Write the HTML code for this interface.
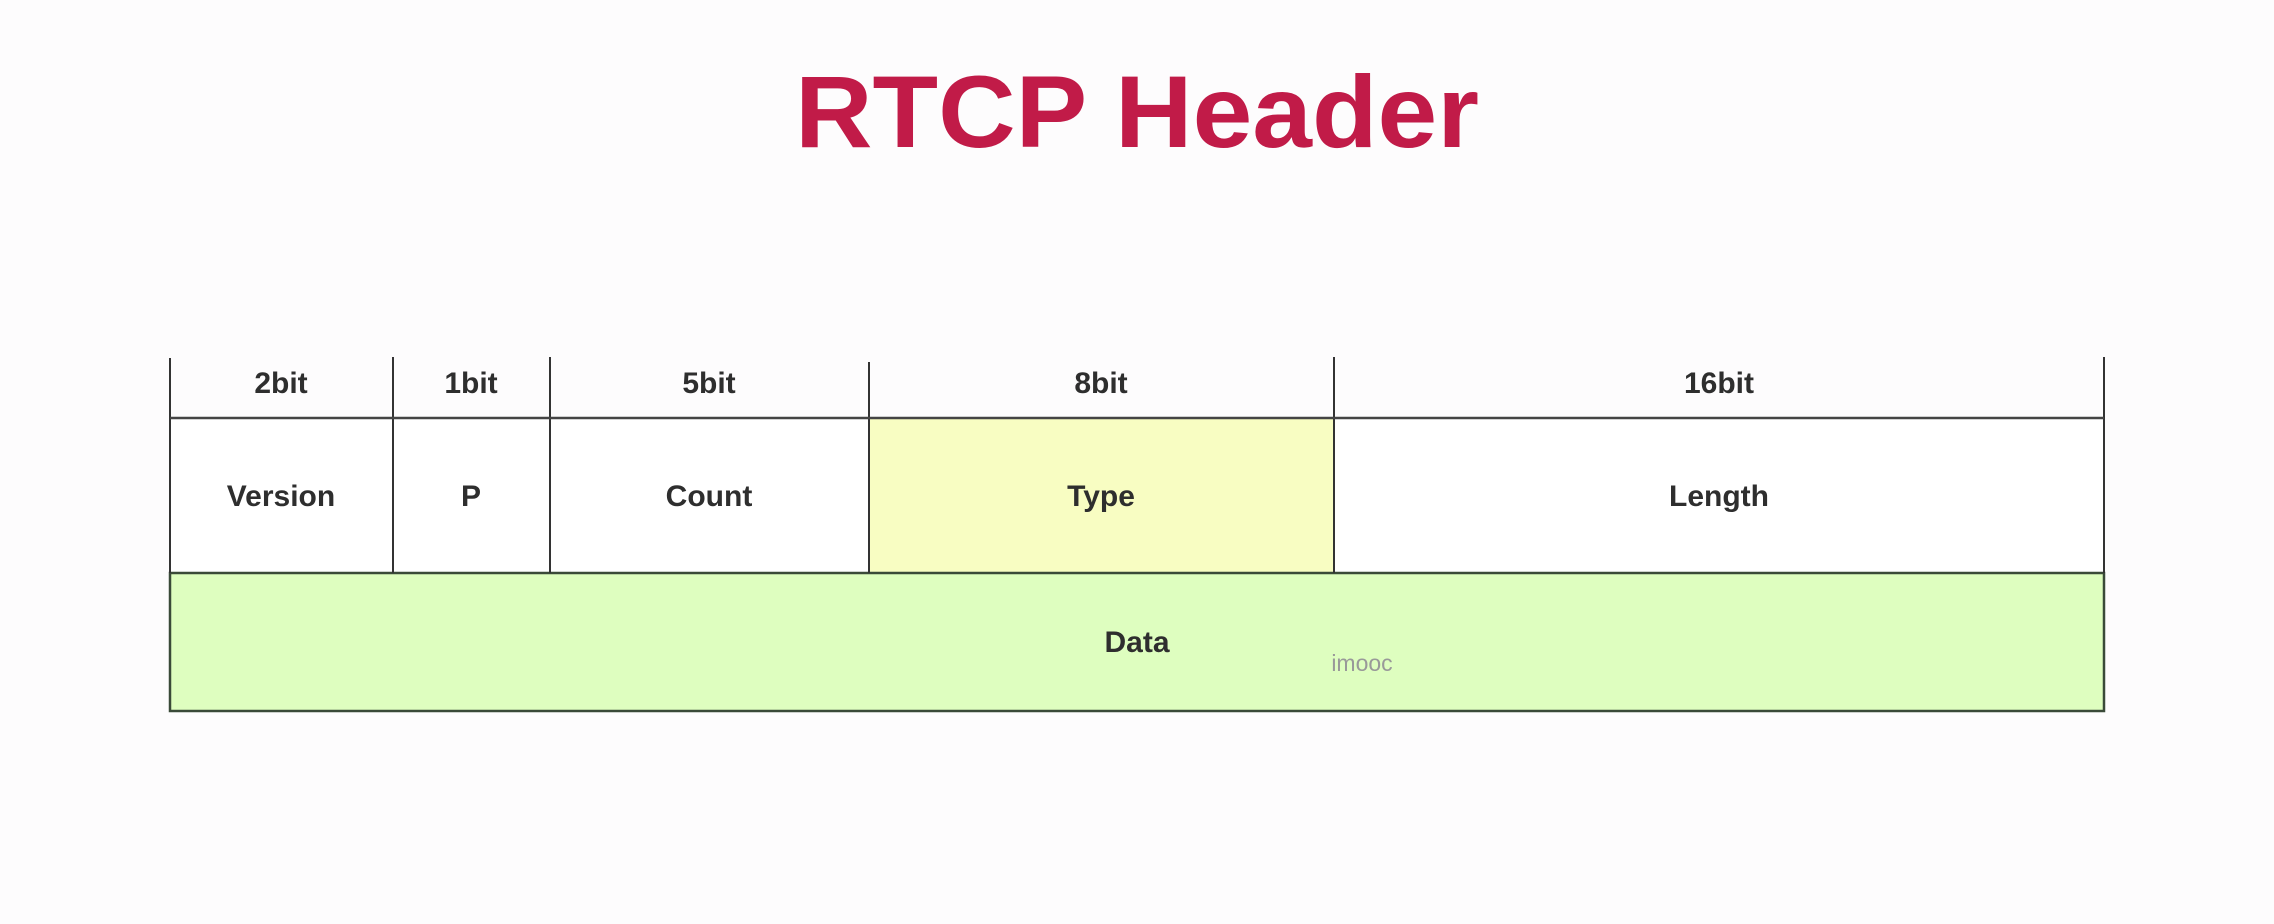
<!DOCTYPE html>
<html><head><meta charset="utf-8"><style>
html,body{margin:0;padding:0;background:#fdfcfd;}
body{width:2274px;height:924px;overflow:hidden;position:relative;}
svg{position:absolute;left:0;top:0;}
</style></head><body>
<svg width="2274" height="924" xmlns="http://www.w3.org/2000/svg">
<rect x="0" y="0" width="2274" height="924" fill="#fdfcfd"/>
<text x="1137" y="147" text-anchor="middle" font-family="Liberation Sans, sans-serif" font-weight="bold" font-size="102" fill="#c11b48" textLength="684" lengthAdjust="spacingAndGlyphs">RTCP Header</text>
<rect x="170" y="418" width="1934" height="155" fill="#ffffff"/>
<rect x="869" y="418" width="465" height="155" fill="#f8fdc2"/>
<rect x="170" y="573" width="1934" height="138" fill="#defebf" stroke="#3a4a38" stroke-width="2.5"/>
<g stroke="#333" stroke-width="2">
<line x1="170" y1="358" x2="170" y2="573"/>
<line x1="393" y1="357" x2="393" y2="573"/>
<line x1="550" y1="357" x2="550" y2="573"/>
<line x1="869" y1="362" x2="869" y2="573"/>
<line x1="1334" y1="357" x2="1334" y2="573"/>
<line x1="2104" y1="357" x2="2104" y2="573"/>
</g>
<line x1="170" y1="418" x2="2104" y2="418" stroke="#444" stroke-width="2.5"/>
<g font-family="Liberation Sans, sans-serif" font-weight="bold" font-size="30" fill="#2e2e2e" text-anchor="middle">
<text x="281" y="393">2bit</text>
<text x="471" y="393">1bit</text>
<text x="709" y="393">5bit</text>
<text x="1101" y="393">8bit</text>
<text x="1719" y="393">16bit</text>
<text x="281" y="506">Version</text>
<text x="471" y="506">P</text>
<text x="709" y="506">Count</text>
<text x="1101" y="506">Type</text>
<text x="1719" y="506">Length</text>
<text x="1137" y="652">Data</text>
</g>
<text x="1362" y="671" font-family="Liberation Sans, sans-serif" font-size="23" fill="#999" text-anchor="middle">imooc</text>
</svg>
</body></html>
